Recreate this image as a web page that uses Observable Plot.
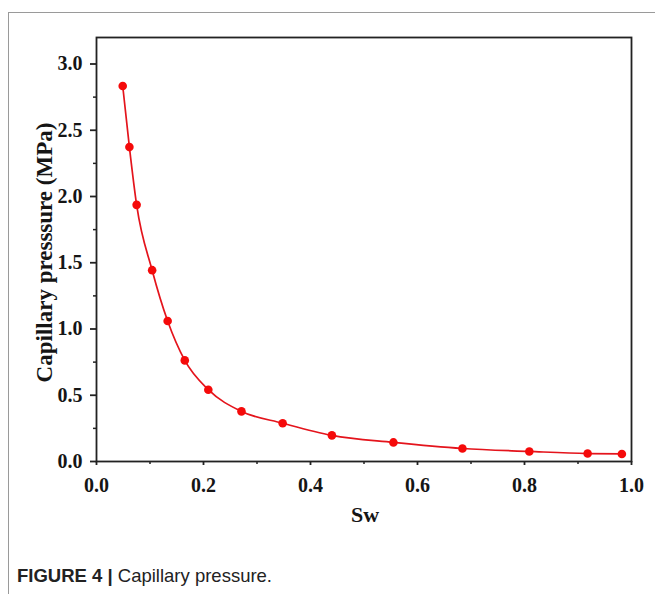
<!DOCTYPE html>
<html>
<head>
<meta charset="utf-8">
<script src="https://cdn.jsdelivr.net/npm/d3@7"></script>
<script src="https://cdn.jsdelivr.net/npm/@observablehq/plot@0.6"></script>
<style>
  html, body { margin: 0; padding: 0; background: #fff; }
  body { width: 655px; height: 594px; overflow: hidden; position: relative; }
  #border { position: absolute; left: 8px; top: 12px; width: 647px; height: 582px;
            border-top: 1.5px solid #9a9a9a; border-left: 1.5px solid #9a9a9a; }
  #chart { position: absolute; left: 0; top: 0; }
  #caption { position: absolute; left: 17px; top: 565px; font-family: "Liberation Sans", Arial, sans-serif;
             font-size: 18.5px; color: #222; white-space: nowrap; }
  #caption b { font-weight: bold; }
</style>
</head>
<body>
<div id="border"></div>
<div id="chart"></div>
<div id="caption"><b>FIGURE 4 |</b> Capillary pressure.</div>
<script>
// Water saturation (Sw) and capillary pressure (MPa)
const sw = [0.049, 0.0615, 0.075, 0.104, 0.133, 0.165, 0.209, 0.271, 0.348, 0.44, 0.555, 0.684, 0.809, 0.918, 0.982];
const pc = [2.834, 2.373, 1.937, 1.444, 1.060, 0.763, 0.542, 0.378, 0.289, 0.197, 0.144, 0.098, 0.076, 0.060, 0.057];

const xMajor = [0, 0.2, 0.4, 0.6, 0.8, 1.0];
const xMinor = [0.1, 0.3, 0.5, 0.7, 0.9];
const yMajor = [0, 0.5, 1.0, 1.5, 2.0, 2.5, 3.0];
const yMinor = [0.25, 0.75, 1.25, 1.75, 2.25, 2.75];

const xLabel = "Sw";
const yLabel = "Capillary presssure (MPa)";

const data = sw.map((x, i) => ({x, y: pc[i]}));
const serif = '"Liberation Serif", "Times New Roman", serif';

const chart = Plot.plot({
  width: 655,
  height: 545,
  marginLeft: 96,
  marginRight: 24,
  marginTop: 37,
  marginBottom: 84,
  x: {domain: [0, 1]},
  y: {domain: [0, 3.2]},
  style: {fontFamily: serif, fontSize: "20px", fontWeight: "bold", color: "#151515", background: "transparent"},
  marks: [
    Plot.axisX(xMajor, {tickSize: 4, tickPadding: 12, strokeWidth: 1.8, stroke: "#222", tickFormat: d => d.toFixed(1), label: null}),
    Plot.axisX(xMinor, {tickSize: 3, strokeWidth: 1.5, stroke: "#222", tickFormat: () => "", label: null}),
    Plot.axisY(yMajor, {tickSize: 6, tickPadding: 8, strokeWidth: 1.8, stroke: "#222", tickFormat: d => d.toFixed(1), label: null}),
    Plot.axisY(yMinor, {tickSize: 3, strokeWidth: 1.5, stroke: "#222", tickFormat: () => "", label: null}),
    Plot.frame({stroke: "#222", strokeWidth: 1.8}),
    Plot.line(data, {x: "x", y: "y", curve: "monotone-x", stroke: "#e4141c", strokeWidth: 1.7}),
    Plot.dot(data, {x: "x", y: "y", r: 4.3, fill: "#f50a0a", stroke: "none"}),
    Plot.text([xLabel], {text: d => d, frameAnchor: "bottom", dx: 1, dy: 60, fontSize: 22, fontWeight: "bold", fill: "#151515"}),
    Plot.text([yLabel], {text: d => d, frameAnchor: "left", textAnchor: "middle", dx: -52, dy: 3, rotate: -90, fontSize: 23, fontWeight: "bold", fill: "#151515"})
  ]
});
document.getElementById("chart").appendChild(chart);
</script>
</body>
</html>
